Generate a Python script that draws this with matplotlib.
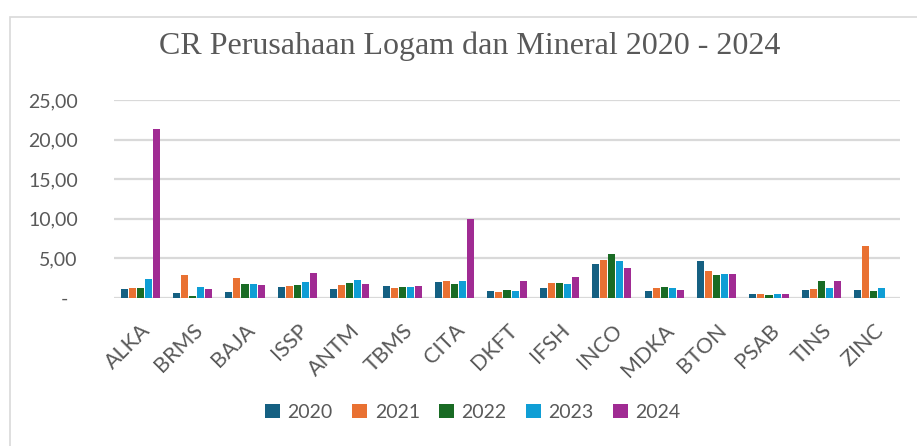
import numpy as np
import matplotlib.pyplot as plt
from matplotlib.patches import Rectangle

companies = ['ALKA', 'BRMS', 'BAJA', 'ISSP', 'ANTM', 'TBMS', 'CITA', 'DKFT',
             'IFSH', 'INCO', 'MDKA', 'BTON', 'PSAB', 'TINS', 'ZINC']
years = ['2020', '2021', '2022', '2023', '2024']

cr_2020 = [1.17, 0.67, 0.80, 1.42, 1.17, 1.55, 2.06, 0.92, 1.30, 4.33, 0.88, 4.67, 0.50, 1.01, 1.01]
cr_2021 = [1.30, 2.94, 2.56, 1.55, 1.68, 1.30, 2.18, 0.80, 1.93, 4.83, 1.26, 3.40, 0.50, 1.13, 6.56]
cr_2022 = [1.30, 0.29, 1.80, 1.68, 1.93, 1.42, 1.80, 1.05, 1.93, 5.59, 1.39, 2.90, 0.38, 2.14, 0.88]
cr_2023 = [2.43, 1.42, 1.80, 2.06, 2.31, 1.42, 2.18, 0.92, 1.80, 4.70, 1.26, 3.03, 0.50, 1.26, 1.26]
cr_2024 = [21.40, 1.17, 1.68, 3.19, 1.80, 1.55, 10.00, 2.18, 2.69, 3.82, 1.01, 3.03, 0.50, 2.14, 0.05]

series = [cr_2020, cr_2021, cr_2022, cr_2023, cr_2024]
colors = ['#156082', '#E97132', '#196B24', '#0F9ED5', '#A02B93']

yticks = [0, 5, 10, 15, 20, 25]
ytick_labels = ['-  ', '5,00', '10,00', '15,00', '20,00', '25,00']

txt = '#595959'
grid_col = '#D9D9D9'

fig = plt.figure(figsize=(9.17, 4.46), dpi=100)
ax = fig.add_axes([114/917, 1 - 298/446, (900 - 114)/917, (298 - 100)/446])

# chart border
fig.patches.append(Rectangle((10/917, -0.1), 1.2, (446 - 17)/446 + 0.1,
                             transform=fig.transFigure, fill=False,
                             edgecolor='#D9D9D9', linewidth=1.2))

x = np.arange(len(companies))
pitch = 0.153
width = 0.134
for i, (vals, col, yr) in enumerate(zip(series, colors, years)):
    ax.bar(x + (i - 2) * pitch, vals, width=width, color=col, label=yr, zorder=3)

ax.set_xlim(-0.5, len(companies) - 0.5)
ax.set_ylim(0, 25)
ax.set_yticks(yticks)
ax.set_yticklabels(ytick_labels)
ax.set_xticks(x)
ax.set_xticklabels(companies, rotation=45, ha='right', rotation_mode='anchor')

for y in yticks:
    ax.axhline(y, color=grid_col, linewidth=1.6, zorder=1)

for s in ax.spines.values():
    s.set_visible(False)
ax.tick_params(axis='both', length=0, colors=txt, labelsize=14)
ax.tick_params(axis='x', labelsize=15.5, pad=16)
ax.tick_params(axis='y', pad=26)
for lab in ax.get_xticklabels() + ax.get_yticklabels():
    lab.set_fontfamily('Lato')
    lab.set_color(txt)

fig.text(470/917, 1 - 46/446, 'CR Perusahaan Logam dan Mineral 2020 - 2024',
         ha='center', va='center', fontsize=23, family='Liberation Serif', color=txt)

leg = fig.legend(loc='center', bbox_to_anchor=(473/917, 1 - 412/446), ncol=5,
                 frameon=False, prop={'family': 'Lato', 'size': 14},
                 handlelength=0.75, handleheight=0.75, handletextpad=0.4,
                 columnspacing=1.0)
for t in leg.get_texts():
    t.set_color(txt)

fig.savefig('out.png', dpi=100)
